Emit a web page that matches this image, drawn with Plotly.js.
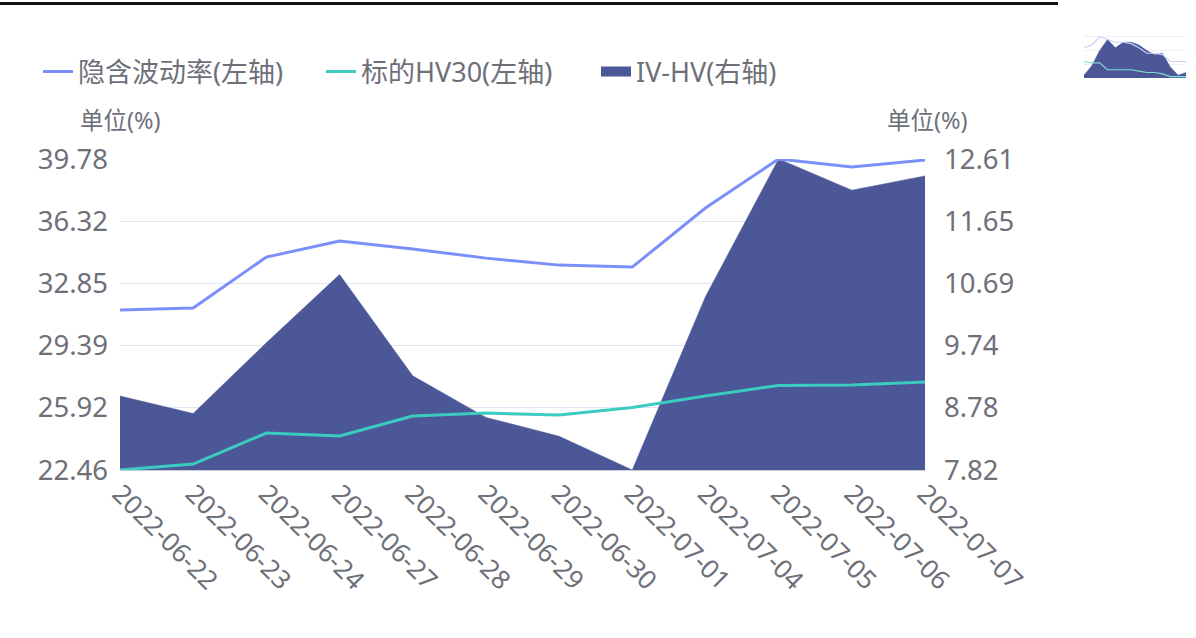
<!DOCTYPE html>
<html>
<head>
<meta charset="utf-8">
<script src="https://cdn.plot.ly/plotly-3.0.1.min.js"></script>
<style>
  html, body { margin: 0; padding: 0; background: #fff; }
  #topline { position: absolute; left: 0; top: 2px; width: 1058px; height: 3px; background: #111; }
  #chart { position: absolute; left: 0; top: 0; width: 1196px; height: 638px; }
  #thumb { position: absolute; left: 1062px; top: 14px; width: 134px; height: 76px; }
</style>
</head>
<body>
<div id="chart"></div>
<div id="topline"></div>
<div id="thumb"></div>
<script>
// ---- main chart data ----
var dates = ['2022-06-22','2022-06-23','2022-06-24','2022-06-27','2022-06-28','2022-06-29',
             '2022-06-30','2022-07-01','2022-07-04','2022-07-05','2022-07-06','2022-07-07'];
var ivValues   = [31.37, 31.48, 34.32, 35.21, 34.77, 34.26, 33.87, 33.76, 37.05, 39.78, 39.33, 39.72];
var hv30Values = [22.46, 22.79, 24.52, 24.35, 25.47, 25.63, 25.52, 25.94, 26.58, 27.17, 27.19, 27.36];
var ivhvValues = [8.96, 8.69, 9.78, 10.83, 9.27, 8.63, 8.34, 7.82, 10.49, 12.61, 12.13, 12.35];
var leftTicks  = [22.46, 25.92, 29.39, 32.85, 36.32, 39.78];
var rightTicks = [7.82, 8.78, 9.74, 10.69, 11.65, 12.61];
var seriesNames = ['隐含波动率(左轴)', '标的HV30(左轴)', 'IV-HV(右轴)'];
var unitLabel = '单位(%)';

// ---- thumbnail data (estimated) ----
var thumbX     = [0,1,2,3,4,5,6,7,8,9,10,11,12,13];
var thumbArea  = [2, 9, 20, 28, 22, 26, 26, 24, 20, 17, 18, 8, 2, 4];
var thumbLine1 = [22, 24, 30, 28, 26, 26, 25, 22, 18, 18, 17, 12, 12, 12];
var thumbLine2 = [12, 11, 11, 6, 6, 6, 6, 5, 4, 4, 3, 1, 1, 1];

var textColor = '#6e7079';
var fontFam = 'Noto Sans, Noto Sans CJK SC, sans-serif';
var areaColor = '#4b5796';

var traces = [
  {
    x: dates, y: ivhvValues, name: seriesNames[2], type: 'scatter', mode: 'lines',
    fill: 'tozeroy', fillcolor: areaColor, line: {color: areaColor, width: 0.5},
    yaxis: 'y', showlegend: false, hoverinfo: 'skip'
  },
  {
    x: dates, y: ivValues, name: seriesNames[0], type: 'scatter', mode: 'lines',
    line: {color: '#7b8ffb', width: 3}, yaxis: 'y2', legend: 'legend'
  },
  {
    x: dates, y: hv30Values, name: seriesNames[1], type: 'scatter', mode: 'lines',
    line: {color: '#3ccbbf', width: 3}, yaxis: 'y2', legend: 'legend2'
  },
  {
    // legend swatch for the IV-HV area
    x: [dates[0]], y: [null], name: seriesNames[2], type: 'scatter', mode: 'lines',
    line: {color: areaColor, width: 15}, yaxis: 'y', legend: 'legend3', hoverinfo: 'skip'
  }
];

function leg(xpx) {
  return {
    orientation: 'h', x: (xpx - 120) / 805, xanchor: 'left', y: (470 - 72) / 311, yanchor: 'middle',
    font: {size: 27, color: textColor, family: fontFam},
    itemwidth: 30, bgcolor: 'rgba(0,0,0,0)', borderwidth: 0
  };
}

var layout = {
  width: 1196, height: 638,
  margin: {l: 120, r: 271, t: 159, b: 168, pad: 0},
  paper_bgcolor: 'rgba(0,0,0,0)', plot_bgcolor: '#fff',
  font: {family: fontFam, color: textColor, size: 27},
  showlegend: true,
  legend: leg(38),
  legend2: leg(321),
  legend3: leg(596),
  xaxis: {
    type: 'category', range: [0, 11], showgrid: false, zeroline: false,
    showline: true, linecolor: '#c9cbd6', linewidth: 1, ticks: '',
    tickangle: 45, ticklabelstandoff: -3, tickfont: {size: 26, color: textColor}, fixedrange: true
  },
  yaxis: {
    side: 'right', range: [7.82, 12.61], tickmode: 'array', tickvals: rightTicks,
    ticktext: rightTicks.map(function(v){return v.toFixed(2);}),
    showgrid: true, gridcolor: '#e3e5f4', gridwidth: 1, zeroline: false, showline: false,
    ticks: '', ticklabelstandoff: 18, tickfont: {size: 27.5, color: textColor}, fixedrange: true
  },
  yaxis2: {
    overlaying: 'y', side: 'left', range: [22.46, 39.78], tickmode: 'array', tickvals: leftTicks,
    ticktext: leftTicks.map(function(v){return v.toFixed(2);}),
    showgrid: false, zeroline: false, showline: false, ticks: '', ticklabelstandoff: 11,
    tickfont: {size: 27.5, color: textColor}, fixedrange: true
  },
  annotations: [
    {xref: 'paper', yref: 'paper', x: 0, y: (470 - 120) / 311, xanchor: 'center', yanchor: 'middle',
     text: unitLabel, showarrow: false, font: {size: 23.5, color: textColor, family: fontFam}},
    {xref: 'paper', yref: 'paper', x: (927 - 120) / 805, y: (470 - 120) / 311, xanchor: 'center', yanchor: 'middle',
     text: unitLabel, showarrow: false, font: {size: 23.5, color: textColor, family: fontFam}}
  ]
};

Plotly.newPlot('chart', traces, layout, {displayModeBar: false, staticPlot: true});

// ---- thumbnail ----
var tTraces = [
  {x: thumbX, y: thumbArea, type: 'scatter', mode: 'lines', fill: 'tozeroy',
   fillcolor: areaColor, line: {color: areaColor, width: 0.5}, showlegend: false},
  {x: thumbX, y: thumbLine1, type: 'scatter', mode: 'lines', line: {color: '#c9d1fb', width: 1.2}, showlegend: false},
  {x: thumbX, y: thumbLine2, type: 'scatter', mode: 'lines', line: {color: '#7fd9d2', width: 1.2}, showlegend: false}
];
var tLayout = {
  width: 134, height: 76, margin: {l: 22, r: 10, t: 20, b: 12},
  paper_bgcolor: 'rgba(0,0,0,0)', plot_bgcolor: '#fff',
  xaxis: {range: [0, 13], showgrid: false, zeroline: false, showticklabels: false, ticks: ''},
  yaxis: {range: [0, 32], showgrid: true, gridcolor: '#eef0f8', zeroline: false, showticklabels: false, ticks: ''}
};
Plotly.newPlot('thumb', tTraces, tLayout, {displayModeBar: false, staticPlot: true});
</script>
</body>
</html>
